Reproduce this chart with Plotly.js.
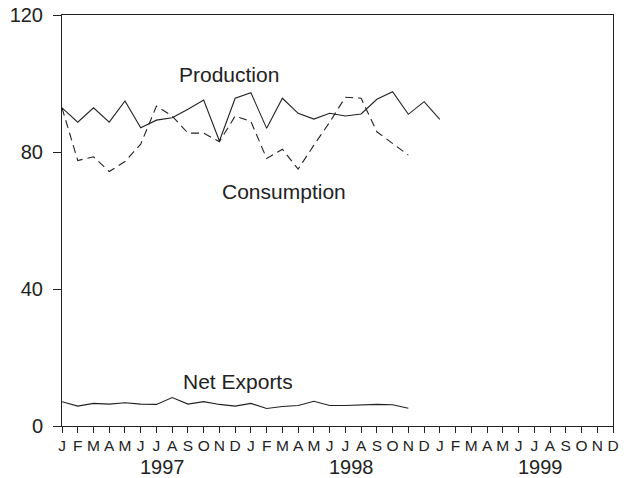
<!DOCTYPE html>
<html>
<head>
<meta charset="utf-8">
<script src="https://cdn.plot.ly/plotly-3.0.1.min.js"></script>
<style>html,body{margin:0;padding:0;background:#fff;}#chart{width:630px;height:478px;}</style>
</head>
<body>
<div id="chart"></div>
<script>
const monthLabels = ["J","F","M","A","M","J","J","A","S","O","N","D",
                     "J","F","M","A","M","J","J","A","S","O","N","D",
                     "J","F","M","A","M","J","J","A","S","O","N","D"];
const yearLabels = ["1997", "1998", "1999"];
const production = [92.9, 88.7, 92.9, 88.7, 94.9, 87.1, 89.3, 90.0, 92.5, 95.2, 83.2, 95.7,
                    97.3, 86.9, 95.7, 91.3, 89.6, 91.3, 90.5, 91.1, 95.4, 97.6, 91.0, 94.7, 89.5];
const consumption = [92.9, 77.5, 78.6, 74.3, 77.2, 82.3, 93.4, 90.5, 85.5, 85.5, 83.0, 90.5,
                     88.9, 78.1, 80.8, 75.0, 82.0, 88.7, 96.0, 95.7, 85.9, 82.5, 79.1];
const netExports = [7.1, 5.8, 6.6, 6.4, 6.8, 6.4, 6.3, 8.3, 6.4, 7.1, 6.3, 5.8,
                    6.6, 5.1, 5.7, 6.0, 7.2, 6.0, 6.0, 6.2, 6.3, 6.2, 5.2];

const idx = arr => arr.map((_, i) => i);
const ink = "#222";
const font = "Liberation Sans, Arial, sans-serif";

const traces = [
  {x: idx(production), y: production, mode: "lines", line: {color: ink, width: 1.1}, hoverinfo: "skip"},
  {x: idx(consumption), y: consumption, mode: "lines", line: {color: ink, width: 1.1, dash: "8px,5px"}, hoverinfo: "skip"},
  {x: idx(netExports), y: netExports, mode: "lines", line: {color: ink, width: 1.1}, hoverinfo: "skip"}
];

const annotations = [
  {x: 10.6, y: 102.5, text: "Production", showarrow: false, font: {family: font, size: 21, color: ink}},
  {x: 14.1, y: 68.6, text: "Consumption", showarrow: false, font: {family: font, size: 21, color: ink}},
  {x: 11.2, y: 13.1, text: "Net Exports", showarrow: false, font: {family: font, size: 21, color: ink}}
];
yearLabels.forEach((yr, k) => {
  annotations.push({x: 6.4 + 12 * k, xref: "x", y: -0.0995, yref: "paper", yanchor: "middle",
    text: yr, showarrow: false, font: {family: font, size: 20, color: ink}});
});

const layout = {
  width: 630, height: 478,
  margin: {l: 62, r: 17, t: 15, b: 52},
  paper_bgcolor: "#fff", plot_bgcolor: "#fff",
  showlegend: false,
  font: {family: font, color: ink},
  xaxis: {
    range: [0, 35], tickvals: idx(monthLabels), ticktext: monthLabels,
    ticks: "outside", ticklen: 6, tickcolor: ink, tickwidth: 1,
    showline: true, linecolor: ink, linewidth: 1, mirror: true,
    showgrid: false, zeroline: false, ticklabelstandoff: -1,
    tickfont: {family: font, size: 15.5, color: ink}
  },
  yaxis: {
    range: [0, 120], tickvals: [0, 40, 80, 120],
    ticks: "outside", ticklen: 8, tickcolor: ink, tickwidth: 1,
    showline: true, linecolor: ink, linewidth: 1, mirror: true,
    showgrid: false, zeroline: false, ticklabelstandoff: 6,
    tickfont: {family: font, size: 20, color: ink}
  },
  annotations: annotations
};

Plotly.newPlot("chart", traces, layout, {staticPlot: true});
</script>
</body>
</html>
